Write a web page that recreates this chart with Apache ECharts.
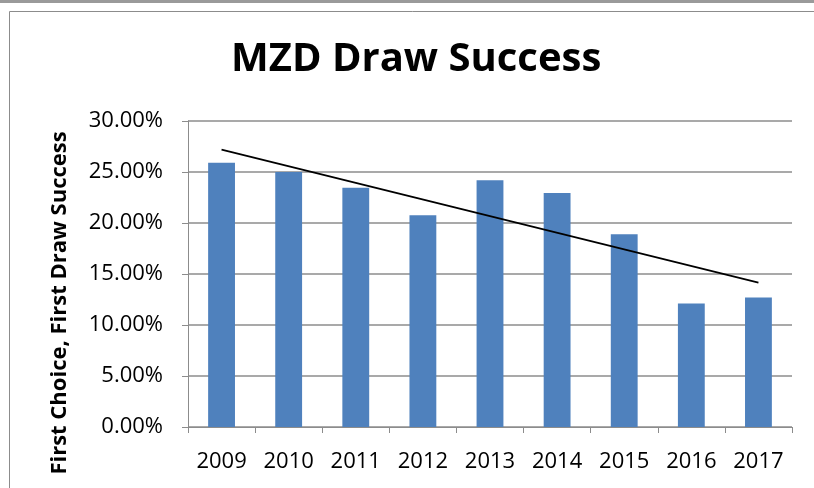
<!DOCTYPE html>
<html>
<head>
<meta charset="utf-8">
<script src="https://cdn.jsdelivr.net/npm/echarts@6/dist/echarts.min.js"></script>
<style>
  html, body { margin: 0; padding: 0; background: #fff; }
  #chart { width: 814px; height: 488px; }
</style>
</head>
<body>
<div id="chart"></div>
<script>
  // 年份分类
  const years = ['2009', '2010', '2011', '2012', '2013', '2014', '2015', '2016', '2017']
  // 首选首次抽签成功率（%）
  const successRate = [25.9, 25.0, 23.45, 20.75, 24.2, 22.95, 18.9, 12.1, 12.7]
  // 趋势线两端（读自图片）
  const trendYears = ['2009', '2017']
  const trendValues = [27.2, 14.15]
  // y轴刻度
  const yTicks = [0, 5, 10, 15, 20, 25, 30]

  const font = '"Open Sans", Calibri, sans-serif'
  const gridColor = '#8c8c8c'

  const chart = echarts.init(document.getElementById('chart'))

  chart.setOption({
    animation: false,
    title: {
      text: 'MZD Draw Success',
      left: 226,
      top: 35,
      textStyle: { fontFamily: font, fontSize: 40, fontWeight: 'bold', color: '#000' }
    },
    grid: { left: 188, right: 22, top: 121, bottom: 61 },
    xAxis: {
      type: 'category',
      data: years,
      axisLine: { lineStyle: { color: gridColor, width: 1 } },
      axisTick: { show: true, length: 6, lineStyle: { color: gridColor } },
      axisLabel: { color: '#000', fontFamily: font, fontSize: 22, margin: 24 }
    },
    yAxis: {
      type: 'value',
      min: yTicks[0],
      max: yTicks[yTicks.length - 1],
      interval: yTicks[1] - yTicks[0],
      axisLine: { show: true, lineStyle: { color: gridColor, width: 1 } },
      axisTick: { show: true, length: 6, lineStyle: { color: gridColor } },
      splitLine: { lineStyle: { color: gridColor, width: 1.5 } },
      axisLabel: {
        color: '#000', fontFamily: font, fontSize: 22, margin: 25,
        formatter: v => v.toFixed(2) + '%'
      }
    },
    series: [
      {
        type: 'bar',
        data: successRate,
        barCategoryGap: '60%',
        itemStyle: { color: '#4f81bd' }
      },
      {
        type: 'line',
        data: trendYears.map((y, i) => [y, trendValues[i]]),
        symbol: 'none',
        lineStyle: { color: '#000', width: 1.75 },
        z: 5
      }
    ],
    graphic: [
      {
        type: 'rect',
        shape: { x: 9.5, y: 11.5, width: 830, height: 500 },
        style: { fill: 'none', stroke: '#8c8c8c', lineWidth: 1 },
        silent: true
      },
      {
        type: 'rect',
        shape: { x: 0, y: 0, width: 814, height: 3 },
        style: { fill: '#9a9a9a' },
        silent: true
      },
      {
        type: 'text',
        x: 60,
        y: 303,
        rotation: Math.PI / 2,
        style: {
          text: 'First Choice, First Draw Success',
          fontFamily: font, fontSize: 22, fontWeight: 'bold', fill: '#000',
          textAlign: 'center', textVerticalAlign: 'middle'
        }
      }
    ]
  })
</script>
</body>
</html>
